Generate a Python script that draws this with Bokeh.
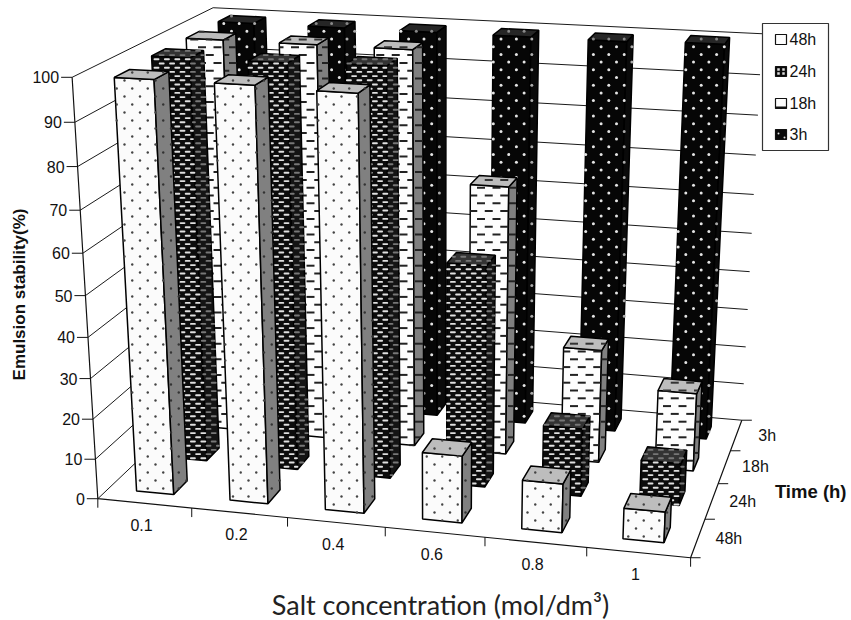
import numpy as np
from bokeh.plotting import figure
from bokeh.models import Range1d
from bokeh.core.properties import value
from bokeh.embed import file_html
from bokeh.resources import INLINE

concentrations = ["0.1", "0.2", "0.4", "0.6", "0.8", "1"]
times = ["48h", "24h", "18h", "3h"]
s48 = [99, 99, 98.5, 16.5, 12, 7.5]
s24 = [99.5, 99.5, 100, 55, 17, 10.5]
s18 = [99.5, 99.5, 99.5, 68, 29, 20]
s3 = [99.5, 99.5, 99.5, 99.5, 99.5, 100]
series = [s48, s24, s18, s3]
y_ticks = list(range(0, 101, 10))

NX, NZ = 6, 4
FONT = "Liberation Sans"

# perspective camera fitted to the box corners of the plot
world = [(0,0,0),(NX,0,0),(NX,0,NZ),(0,0,NZ),(0,100,0),(NX,100,NZ),(0,100,NZ)]
image = [(98,501),(689,556),(742,421),(226,373),(72,75),(762,33),(212,9)]
rows = []
for (X,Y,Z),(u,v) in zip(world,image):
    rows.append([X,Y,Z,1,0,0,0,0,-u*X,-u*Y,-u*Z,-u])
    rows.append([0,0,0,0,X,Y,Z,1,-v*X,-v*Y,-v*Z,-v])
P = np.linalg.svd(np.array(rows,float))[2][-1].reshape(3,4)

def proj(x, y, z):
    h = P @ np.array([x, y, z, 1.0])
    return float(h[0]/h[2]), float(h[1]/h[2])

p = figure(width=851, height=620, x_range=Range1d(0, 851), y_range=Range1d(620, 0),
           output_backend="svg", toolbar_location=None, min_border=0,
           background_fill_color="white", border_fill_color="white", outline_line_color=None)
p.axis.visible = False
p.grid.visible = False

# walls: gridlines
xs, ys = [], []
for v in y_ticks:
    a, b, c = proj(0,v,0), proj(0,v,NZ), proj(NX,v,NZ)
    xs.append([a[0],b[0],c[0]]); ys.append([a[1],b[1],c[1]])
p.multi_line(xs, ys, line_color="#1a1a1a", line_width=1)

# axes
axx = [proj(0,100,0)[0], proj(0,0,0)[0], proj(NX,0,0)[0], proj(NX,0,NZ)[0]]
axy = [proj(0,100,0)[1], proj(0,0,0)[1], proj(NX,0,0)[1], proj(NX,0,NZ)[1]]
p.line(axx, axy, line_color="#111111", line_width=1.2)

x0s, y0s, x1s, y1s = [], [], [], []
for v in y_ticks:
    q = proj(0,v,0)
    x0s.append(q[0]-11); y0s.append(q[1]); x1s.append(q[0]); y1s.append(q[1])
for i in range(NX+1):
    q = proj(i,0,0)
    x0s.append(q[0]); y0s.append(q[1]); x1s.append(q[0]); y1s.append(q[1]+9)
for j in range(NZ+1):
    q = proj(NX,0,j)
    x0s.append(q[0]); y0s.append(q[1]); x1s.append(q[0]+10); y1s.append(q[1])
p.segment(x0s, y0s, x1s, y1s, line_color="#111111", line_width=1)

def inside(poly, x, y):
    n = len(poly); s = 0
    for i in range(n):
        a, b = poly[i], poly[(i+1) % n]
        c = (b[0]-a[0])*(y-a[1]) - (b[1]-a[1])*(x-a[0])
        if c != 0:
            if s == 0: s = 1 if c > 0 else -1
            elif (c > 0) != (s > 0): return False
    return True

def lattice(poly, dx, dy):
    pts = []
    px = [q[0] for q in poly]; py = [q[1] for q in poly]
    for k in range(int(min(py)/dy)-1, int(max(py)/dy)+2):
        for m in range(int(min(px)/dx)-1, int(max(px)/dx)+2):
            x = (m + (k % 2)/2)*dx; y = k*dy
            if inside(poly, x, y): pts.append((x, y))
    return pts

def clip_dash(poly, pts, half):
    x0, x1, y = [], [], []
    for qx, qy in pts:
        a = b = 0.0
        while a < half and inside(poly, qx-a-0.5, qy): a += 0.5
        while b < half and inside(poly, qx+b+0.5, qy): b += 0.5
        if a + b >= 1.5:
            x0.append(qx-a); x1.append(qx+b); y.append(qy)
    return x0, x1, y

def marks(poly, kind, col):
    if kind == "dots":
        pts = lattice(poly, 15.5, 8)
        if pts: p.scatter([q[0] for q in pts],[q[1] for q in pts], size=2.4, marker="circle", fill_color=col, line_color=None)
    elif kind == "dash":
        x0, x1, y = clip_dash(poly, lattice(poly, 15.5, 7.8), 4)
        if y: p.segment(x0, y, x1, y, line_color=col, line_width=2)
    elif kind == "oval":
        x0, x1, y = clip_dash(poly, lattice(poly, 10.4, 4.2), 2.0)
        if y: p.segment(x0, y, x1, y, line_color=col, line_width=1.9, line_cap="round")
    elif kind == "wdots":
        pts = lattice(poly, 15.4, 7.7)
        if pts: p.scatter([q[0] for q in pts],[q[1] for q in pts], size=3, marker="circle", fill_color=col, line_color=None)

styles = {
    0: dict(front="#fbfbfb", side="#808080", top="#bdbdbd", kind="dots", cf="#444444", cs="#333333", ct="#444444"),
    1: dict(front="#0c0c0c", side="#141414", top="#333333", kind="oval", cf="#e0e0e0", cs="#777777", ct="#777777"),
    2: dict(front="#fdfdfd", side="#808080", top="#bdbdbd", kind="dash", cf="#222222", cs="#222222", ct="#333333"),
    3: dict(front="#060606", side="#0a0a0a", top="#262626", kind="wdots", cf="#e4e4e4", cs="#aaaaaa", ct="#888888"),
}

L, R = 0.3, 0.7
for j in range(NZ-1, -1, -1):
    st = styles[j]
    for i in range(NX):
        h = series[j][i]
        x0, x1, z0, z1 = i+L, i+R, j+L, j+R
        front = [proj(x0,0,z0),proj(x1,0,z0),proj(x1,h,z0),proj(x0,h,z0)]
        side  = [proj(x1,0,z0),proj(x1,0,z1),proj(x1,h,z1),proj(x1,h,z0)]
        top   = [proj(x0,h,z0),proj(x1,h,z0),proj(x1,h,z1),proj(x0,h,z1)]
        faces = [front, side, top]
        p.patches([[q[0] for q in f] for f in faces], [[q[1] for q in f] for f in faces],
                  fill_color=[st["front"], st["side"], st["top"]], line_color="#000000", line_width=1.5)
        marks(front, st["kind"], st["cf"])
        marks(side, st["kind"], st["cs"])
        marks(top, st["kind"], st["ct"])

def txt(x, y, s, size, align="center", bold=False, font=FONT, angle=0, color="#111111"):
    p.text(x=[x], y=[y], text=[s], text_font=value(font), text_font_size=size, text_align=align,
           text_baseline="middle", text_font_style="bold" if bold else "normal", angle=angle, text_color=color)

for v in y_ticks:
    q = proj(0,v,0)
    txt(q[0]-13, q[1], str(v), "16px", "right")
for i, s in enumerate(concentrations):
    q = proj(i+.5,0,0)
    txt(q[0]-3, q[1]+21.5, s, "16px")
for j, s in enumerate(times):
    q = proj(NX,0,j+.5)
    txt(q[0]+31, q[1], s, "16px")

txt(18.5, 294, "Emulsion stability(%)", "17px", bold=True, angle=np.pi/2)
txt(846, 491, "Time (h)", "18.5px", "right", bold=True)
txt(440, 604, "Salt concentration (mol/dm³)", "27px", font="Lato", color="#222222")

# legend
p.quad(left=[762], right=[828], top=[23], bottom=[150], fill_color="white", line_color="#333333", line_width=1.2)
lx = [775, 786]
rows_y = [39, 71, 103, 134]
for n, s in enumerate(times):
    yc = rows_y[n]
    dark = n in (1, 3)
    p.quad(left=[lx[0]], right=[lx[1]], top=[yc-5], bottom=[yc+5],
           fill_color="#0a0a0a" if dark else "#fdfdfd", line_color="#111111", line_width=1.2)
    if n == 1:
        p.scatter([778, 783, 778, 783], [yc-2, yc-2, yc+2, yc+2], size=2.5, marker="square", fill_color="#dddddd", line_color=None)
    if n == 2:
        p.segment([lx[0]], [yc+4], [lx[1]], [yc+4], line_color="#111111", line_width=2)
    if n == 3:
        p.scatter([778, 784], [yc-1, yc+3], size=2, marker="circle", fill_color="#dddddd", line_color=None)
    txt(789, yc, s, "16px", "left")

open("out.html", "w").write(file_html(p, INLINE))
